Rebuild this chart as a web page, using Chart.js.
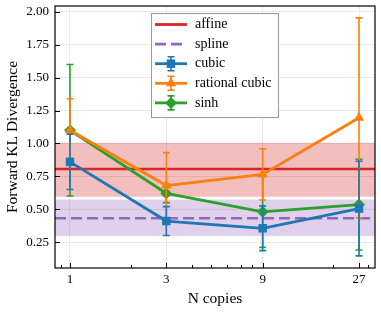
<!DOCTYPE html>
<html>
<head>
<meta charset="utf-8">
<script src="https://cdn.jsdelivr.net/npm/chart.js@4"></script>
<style>
  body { margin: 0; background: #fff; }
  canvas { display: block; }
</style>
</head>
<body>
<canvas id="myChart" width="381" height="312"></canvas>
<script>
const copies = [1, 3, 9, 27];
const xMinorTicks = [0.9, 2, 4, 5, 6, 7, 8, 20, 30];
const yTicks = [0.25, 0.5, 0.75, 1.0, 1.25, 1.5, 1.75, 2.0];

const affineMean = 0.805;
const affineBand = [0.595, 1.005];
const splineMean = 0.432;
const splineBand = [0.297, 0.573];

const cubicMean = [0.86, 0.41, 0.355, 0.505];
const cubicErr = [0.21, 0.11, 0.17, 0.36];
const rationalMean = [1.10, 0.68, 0.765, 1.195];
const rationalErr = [0.24, 0.25, 0.195, 0.76];
const sinhMean = [1.10, 0.62, 0.48, 0.535];
const sinhErr = [0.50, 0.07, 0.27, 0.345];

const BLUE = "#1f77b4", ORANGE = "#ff7f0e", GREEN = "#2ca02c", RED = "#d62728", PURPLE = "#9467bd";
const FONT = "'Liberation Serif', 'DejaVu Serif', serif";

const errors = [cubicErr, rationalErr, sinhErr];

function points(means) {
    return copies.map((c, i) => ({ x: c, y: means[i] }));
}

// bands + reference lines, under the series
const bandsPlugin = {
    id: "bands",
    beforeDatasetsDraw(chart) {
        const { ctx, chartArea: a, scales: { y } } = chart;
        ctx.save();
        ctx.beginPath();
        ctx.rect(a.left, a.top, a.right - a.left, a.bottom - a.top);
        ctx.clip();
        ctx.fillStyle = "rgba(214,39,40,0.3)";
        ctx.fillRect(a.left, y.getPixelForValue(affineBand[1]), a.right - a.left,
            y.getPixelForValue(affineBand[0]) - y.getPixelForValue(affineBand[1]));
        ctx.fillStyle = "rgba(148,103,189,0.3)";
        ctx.fillRect(a.left, y.getPixelForValue(splineBand[1]), a.right - a.left,
            y.getPixelForValue(splineBand[0]) - y.getPixelForValue(splineBand[1]));
        ctx.lineWidth = 2.5;
        ctx.strokeStyle = RED;
        ctx.beginPath();
        ctx.moveTo(a.left, y.getPixelForValue(affineMean));
        ctx.lineTo(a.right, y.getPixelForValue(affineMean));
        ctx.stroke();
        ctx.strokeStyle = PURPLE;
        ctx.setLineDash([11, 5]);
        ctx.beginPath();
        ctx.moveTo(a.left, y.getPixelForValue(splineMean));
        ctx.lineTo(a.right, y.getPixelForValue(splineMean));
        ctx.stroke();
        ctx.restore();
    }
};

// error bars, drawn just before each series
const errorBarPlugin = {
    id: "errorBars",
    beforeDatasetDraw(chart, args) {
        const err = errors[args.index];
        if (!err) return;
        const { ctx, scales: { x, y } } = chart;
        const ds = chart.data.datasets[args.index];
        ctx.save();
        ctx.strokeStyle = ds.borderColor;
        ctx.lineWidth = 1.6;
        ds.data.forEach((p, i) => {
            const px = x.getPixelForValue(p.x);
            const lo = y.getPixelForValue(p.y - err[i]);
            const hi = y.getPixelForValue(p.y + err[i]);
            ctx.beginPath();
            ctx.moveTo(px, lo); ctx.lineTo(px, hi);
            ctx.moveTo(px - 3.5, lo); ctx.lineTo(px + 3.5, lo);
            ctx.moveTo(px - 3.5, hi); ctx.lineTo(px + 3.5, hi);
            ctx.stroke();
        });
        ctx.restore();
    }
};

// frame, inward ticks and legend on top
const framePlugin = {
    id: "frame",
    afterDraw(chart) {
        const { ctx, chartArea: a, scales: { x, y } } = chart;
        ctx.save();
        ctx.strokeStyle = "#000";
        ctx.lineWidth = 1.2;
        ctx.strokeRect(a.left, a.top, a.right - a.left, a.bottom - a.top);
        ctx.lineWidth = 1;
        ctx.beginPath();
        yTicks.forEach(v => {
            const py = Math.round(y.getPixelForValue(v)) + 0.5;
            ctx.moveTo(a.left, py); ctx.lineTo(a.left + 5, py);
        });
        copies.forEach(v => {
            const px = Math.round(x.getPixelForValue(v)) + 0.5;
            ctx.moveTo(px, a.bottom); ctx.lineTo(px, a.bottom - 5);
        });
        xMinorTicks.forEach(v => {
            const px = Math.round(x.getPixelForValue(v)) + 0.5;
            if (px > a.left && px < a.right) {
                ctx.moveTo(px, a.bottom); ctx.lineTo(px, a.bottom - 3);
            }
        });
        ctx.stroke();

        // legend
        const lx = a.left + 96, ly = a.top + 7, lw = 127, lh = 104;
        ctx.fillStyle = "rgba(255,255,255,0.85)";
        ctx.fillRect(lx, ly, lw, lh);
        ctx.strokeStyle = "#999";
        ctx.lineWidth = 1;
        ctx.strokeRect(lx + 0.5, ly + 0.5, lw, lh);
        const items = [
            { label: "affine", color: RED },
            { label: "spline", color: PURPLE, dash: true },
            ...chart.data.datasets.map(d => ({ label: d.label, color: d.borderColor, style: d.pointStyle }))
        ];
        ctx.font = "14px " + FONT;
        ctx.textBaseline = "middle";
        items.forEach((it, i) => {
            const cy = ly + 11.5 + i * 19.6;
            const x0 = lx + 4, x1 = lx + 36, cx = (x0 + x1) / 2;
            ctx.strokeStyle = it.color;
            ctx.fillStyle = it.color;
            ctx.lineWidth = 2.8;
            ctx.setLineDash(it.dash ? [11, 5] : []);
            ctx.beginPath();
            ctx.moveTo(x0, cy); ctx.lineTo(x1, cy);
            ctx.stroke();
            ctx.setLineDash([]);
            if (it.style) {
                ctx.lineWidth = 1.6;
                ctx.beginPath();
                ctx.moveTo(cx, cy - 7); ctx.lineTo(cx, cy + 7);
                ctx.moveTo(cx - 3.5, cy - 7); ctx.lineTo(cx + 3.5, cy - 7);
                ctx.moveTo(cx - 3.5, cy + 7); ctx.lineTo(cx + 3.5, cy + 7);
                ctx.stroke();
                Chart.helpers.drawPoint(ctx, { pointStyle: it.style, radius: 6, rotation: 0, borderWidth: 0 }, cx, cy);
            }
            ctx.fillStyle = "#000";
            ctx.fillText(it.label, lx + 44, cy);
        });
        ctx.restore();
    }
};

function seriesDataset(label, means, color, style) {
    return {
        label: label,
        data: points(means),
        borderColor: color,
        backgroundColor: color,
        borderWidth: 2.8,
        pointStyle: style,
        pointRadius: 6,
        pointBorderWidth: 0,
        fill: false,
        tension: 0
    };
}

new Chart("myChart", {
    type: "line",
    data: {
        datasets: [
            seriesDataset("cubic", cubicMean, BLUE, "rect"),
            seriesDataset("rational cubic", rationalMean, ORANGE, "triangle"),
            seriesDataset("sinh", sinhMean, GREEN, "rectRot")
        ]
    },
    options: {
        responsive: false,
        animation: false,
        layout: { padding: { top: 5, right: 5, left: 0, bottom: 0 } },
        plugins: { legend: { display: false }, tooltip: { enabled: false } },
        scales: {
            x: {
                type: "logarithmic",
                min: 0.843,
                max: 32.4,
                afterBuildTicks: s => { s.ticks = copies.map(v => ({ value: v })); },
                afterFit: s => { s.height = 44; s.paddingLeft = 0; s.paddingRight = 0; },
                ticks: {
                    callback: v => String(v),
                    color: "#000",
                    font: { family: FONT, size: 13 },
                    padding: 4,
                    maxRotation: 0
                },
                grid: { color: "#e8e8e8", lineWidth: 1, drawTicks: false },
                border: { display: false },
                title: {
                    display: true,
                    text: "N copies",
                    color: "#000",
                    font: { family: FONT, size: 15.5 },
                    padding: { top: 0, bottom: 4 }
                }
            },
            y: {
                min: 0.053,
                max: 2.045,
                afterBuildTicks: s => { s.ticks = yTicks.map(v => ({ value: v })); },
                afterFit: s => { s.width = 55; s.paddingTop = 0; s.paddingBottom = 0; },
                ticks: {
                    callback: v => v.toFixed(2),
                    color: "#000",
                    font: { family: FONT, size: 13 },
                    padding: 6
                },
                grid: { color: "#e8e8e8", lineWidth: 1, drawTicks: false },
                border: { display: false },
                title: {
                    display: true,
                    text: "Forward KL Divergence",
                    color: "#000",
                    font: { family: FONT, size: 15.5 },
                    padding: { top: 4, bottom: 0 }
                }
            }
        }
    },
    plugins: [bandsPlugin, errorBarPlugin, framePlugin]
});
</script>
</body>
</html>
